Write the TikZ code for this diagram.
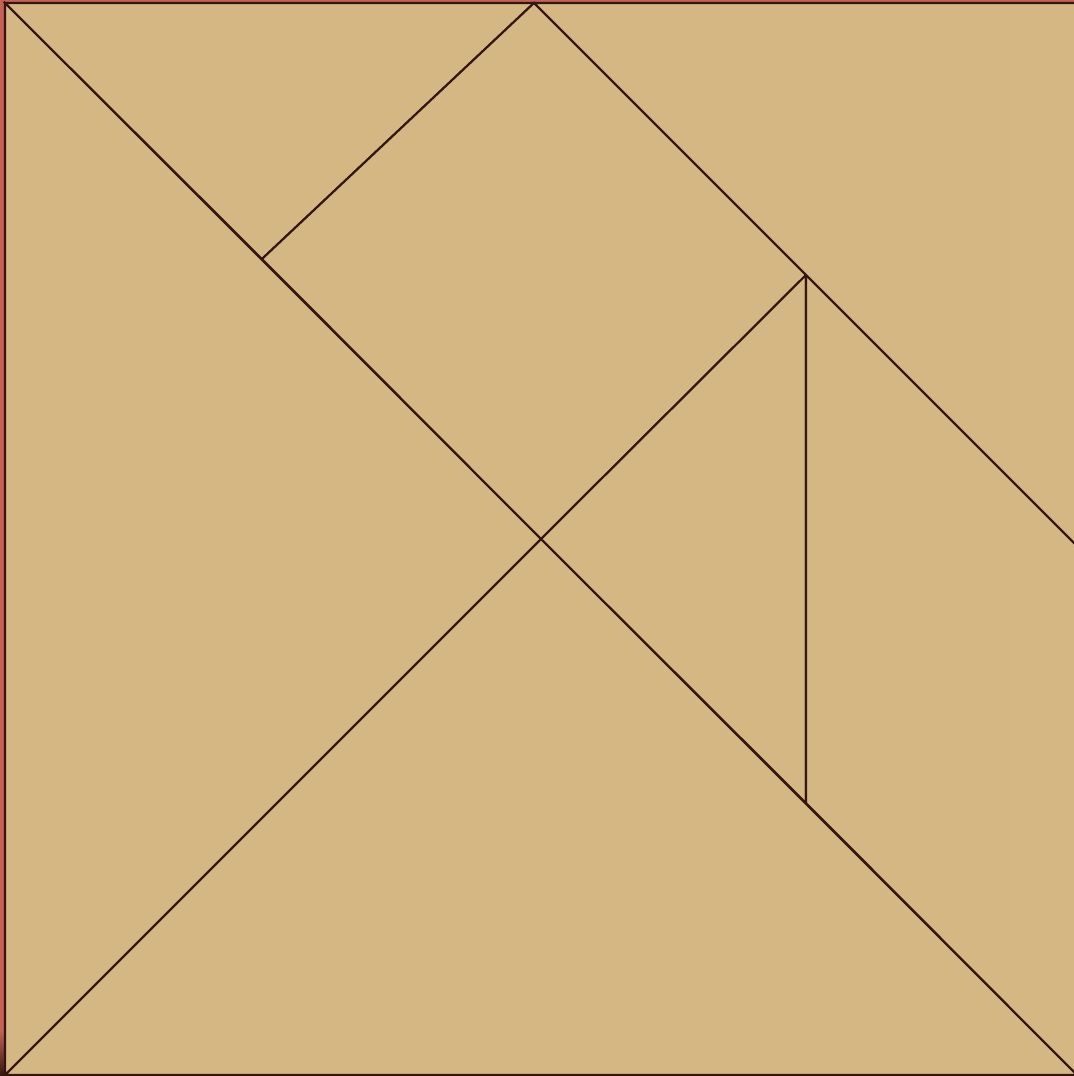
\documentclass[tikz,border=0pt]{standalone}
\definecolor{tan}{RGB}{213,183,131}
\definecolor{edge}{RGB}{52,22,14}
\definecolor{frame}{RGB}{196,98,88}

\begin{document}
\begin{tikzpicture}[x=0.01cm, y=-0.01cm]
    \useasboundingbox (0,0) rectangle (1074,1076);

    % Rám
    \fill[frame] (0,0) rectangle (1074,1076);
    \shade[top color=frame, bottom color=edge] (0,1030) rectangle (5,1076);

    % Vrcholy
    \coordinate (TL) at (5,3);
    \coordinate (TR) at (1077,3);
    \coordinate (BL) at (5,1075);
    \coordinate (BR) at (1077,1075);
    \coordinate (C) at (541,539);
    \coordinate (P) at (534,3);
    \coordinate (Q) at (262,259);
    \coordinate (R) at (806,275);
    \coordinate (S) at (806,803);
    \coordinate (E) at (1077,546);

    % Dílky
    \begin{scope}[fill=tan, draw=edge, line width=0.6pt, line join=miter]
        \clip (0,0) rectangle (1074,1076);
        \filldraw (TL) -- (BL) -- (C) -- cycle;
        \filldraw (BL) -- (BR) -- (C) -- cycle;
        \filldraw (TL) -- (P) -- (Q) -- cycle;
        \filldraw (P) -- (Q) -- (C) -- (R) -- cycle;
        \filldraw (C) -- (R) -- (S) -- cycle;
        \filldraw (R) -- (E) -- (BR) -- (S) -- cycle;
        \filldraw (P) -- (TR) -- (E) -- cycle;
    \end{scope}
\end{tikzpicture}
\end{document}
